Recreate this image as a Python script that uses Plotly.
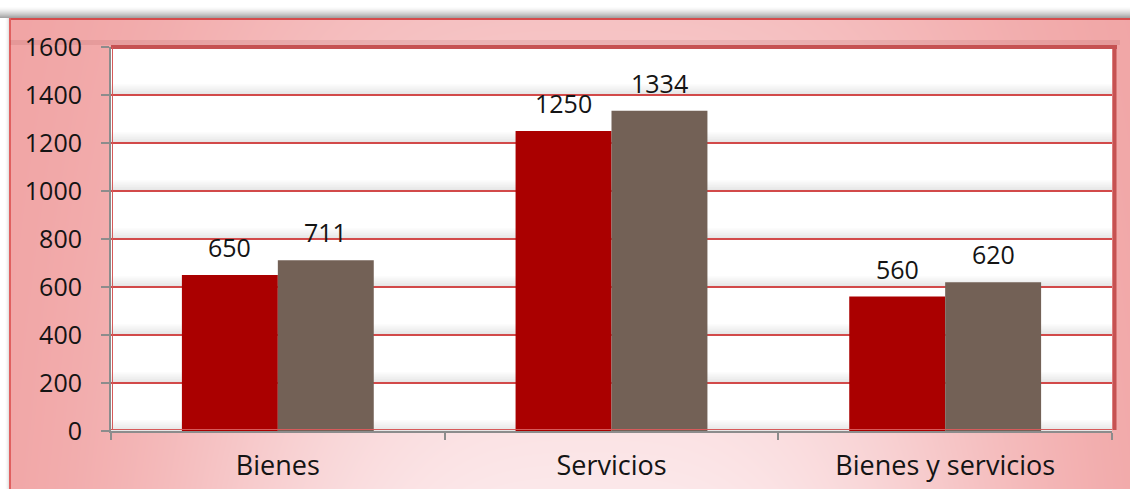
import base64
import struct
import zlib

import numpy as np
import plotly.graph_objects as go

# ---------------- data ----------------
categories = ["Bienes", "Servicios", "Bienes y servicios"]
series_a = [650, 1250, 560]
series_b = [711, 1334, 620]
y_ticks = [0, 200, 400, 600, 800, 1000, 1200, 1400, 1600]

# ---------------- geometry ----------------
FW, FH = 1130, 489
ML, MR, MT, MB = 111, 18, 47, 58
PW, PH = FW - ML - MR, FH - MT - MB

RED = "#aa0000"
BROWN = "#736156"
GRID = "#d24a4a"
AXIS = "#8c8c8c"
FONT = "Open Sans"
TXT = "#141414"


def px_to_paper_x(px):
    return (px - ML) / PW


def px_to_paper_y(py):
    return (FH - MB - py) / PH


# ---------------- background image (gradient frame) ----------------
def make_png(arr):
    h, w, _ = arr.shape
    raw = b"".join(b"\x00" + arr[i].tobytes() for i in range(h))

    def chunk(t, d):
        c = struct.pack(">I", len(d)) + t + d
        return c + struct.pack(">I", zlib.crc32(t + d) & 0xFFFFFFFF)

    return (b"\x89PNG\r\n\x1a\n"
            + chunk(b"IHDR", struct.pack(">IIBBBBB", w, h, 8, 2, 0, 0, 0))
            + chunk(b"IDAT", zlib.compress(raw, 9))
            + chunk(b"IEND", b""))


yy, xx = np.mgrid[0:FH, 0:FW].astype(float)
dark = np.array([241, 163, 163], dtype=float)
light = np.array([252, 232, 234], dtype=float)
yf = 0.45 + 0.55 * np.clip((yy - 18) / 471, 0, 1)
f = np.exp(-(np.abs(xx - 590) / 420) ** 3) * yf
img = dark + f[..., None] * (light - dark)
# top shadow above frame
top = yy < 18
s = np.clip((yy - 6) / 11, 0, 1) ** 1.5
tc = 255 - s * (255 - 165)
img[top] = np.repeat(tc[top][:, None], 3, axis=1)
# left white margin
left = (xx < 9) & (yy >= 18)
sl = np.clip((xx - 4) / 5, 0, 1) ** 2
lc = 255 - sl * (255 - 215)
img[left] = np.repeat(lc[left][:, None], 3, axis=1)
# frame borders
img[18:20, 9:] = [214, 76, 76]
img[18:, 9:11] = [224, 96, 96]
img = np.clip(img, 0, 255).astype(np.uint8)
bg_src = "data:image/png;base64," + base64.b64encode(make_png(img)).decode()

# ---------------- figure ----------------
fig = go.Figure()
fig.add_trace(go.Bar(x=categories, y=series_a, marker=dict(color=RED, line=dict(width=0)),
                     name="A", hoverinfo="x+y"))
fig.add_trace(go.Bar(x=categories, y=series_b, marker=dict(color=BROWN, line=dict(width=0)),
                     name="B", hoverinfo="x+y"))

shapes = []
# white plot area
shapes.append(dict(type="rect", xref="paper", yref="paper", x0=0, x1=1, y0=0, y1=1,
                   fillcolor="white", line=dict(width=0), layer="below"))
# subtle gray shading above each gridline
for v in y_ticks[:-1]:
    for k in range(1, 6):
        shapes.append(dict(type="rect", xref="paper", yref="y", x0=0, x1=1,
                           y0=v, y1=v + k * 9, fillcolor="rgba(0,0,0,0.018)",
                           line=dict(width=0), layer="below"))
# shadow just above the plot top border
shapes.append(dict(type="rect", xref="paper", yref="paper", x0=px_to_paper_x(10), x1=px_to_paper_x(1120),
                   y0=px_to_paper_y(45), y1=px_to_paper_y(40), fillcolor="rgba(150,60,60,0.12)",
                   line=dict(width=0), layer="below"))
# thick top and right borders of plot area
shapes.append(dict(type="line", xref="paper", yref="paper", x0=0, x1=px_to_paper_x(1117),
                   y0=px_to_paper_y(47), y1=px_to_paper_y(47),
                   line=dict(color="#c65252", width=4), layer="above"))
shapes.append(dict(type="line", xref="paper", yref="paper", x0=px_to_paper_x(1114.5), x1=px_to_paper_x(1114.5),
                   y0=px_to_paper_y(45), y1=px_to_paper_y(430),
                   line=dict(color="#c65252", width=4), layer="above"))
# thin red bottom and left inner borders
shapes.append(dict(type="line", xref="paper", yref="paper", x0=0, x1=1,
                   y0=px_to_paper_y(429.5), y1=px_to_paper_y(429.5),
                   line=dict(color="#d65a5a", width=1), layer="above"))
shapes.append(dict(type="line", xref="paper", yref="paper", x0=px_to_paper_x(112.5), x1=px_to_paper_x(112.5),
                   y0=px_to_paper_y(430), y1=px_to_paper_y(47),
                   line=dict(color="#d65a5a", width=1), layer="above"))

annotations = []
for c, a, b in zip(categories, series_a, series_b):
    for val, dx in ((a, -48), (b, 48)):
        annotations.append(dict(x=c, y=val, xref="x", yref="y", text=str(val), showarrow=False,
                                xshift=dx, yshift=9, yanchor="bottom",
                                font=dict(family=FONT, size=25, color=TXT)))

fig.update_layout(
    width=FW, height=FH, autosize=False,
    margin=dict(l=ML, r=MR, t=MT, b=MB, pad=0, autoexpand=False),
    paper_bgcolor="white", plot_bgcolor="white",
    barmode="group", bargap=0.425, bargroupgap=0,
    showlegend=False,
    font=dict(family=FONT, size=25, color=TXT),
    images=[dict(source=bg_src, xref="paper", yref="paper",
                 x=px_to_paper_x(0), y=px_to_paper_y(0),
                 sizex=FW / PW, sizey=FH / PH, sizing="stretch",
                 xanchor="left", yanchor="top", layer="below")],
    shapes=shapes,
    annotations=annotations,
)
fig.update_xaxes(
    type="category", showline=True, linecolor=AXIS, linewidth=2, automargin=False,
    ticks="outside", tickson="boundaries", ticklen=7, tickcolor=AXIS, tickwidth=1.5,
    showgrid=False, ticklabelstandoff=10,
    tickfont=dict(family=FONT, size=27, color=TXT),
)
fig.update_yaxes(
    range=[0, 1600], tickvals=y_ticks, showline=True, linecolor=AXIS, linewidth=2, automargin=False,
    ticks="outside", ticklen=8, tickcolor=AXIS, tickwidth=1.5,
    showgrid=True, gridcolor=GRID, gridwidth=1.5, zeroline=False,
    ticklabelstandoff=14,
    tickfont=dict(family=FONT, size=25, color=TXT),
)

fig.write_html(
    "out.html",
    config={"displayModeBar": False},
    post_script="document.body.style.margin='0px';document.body.style.overflow='hidden';",
)
